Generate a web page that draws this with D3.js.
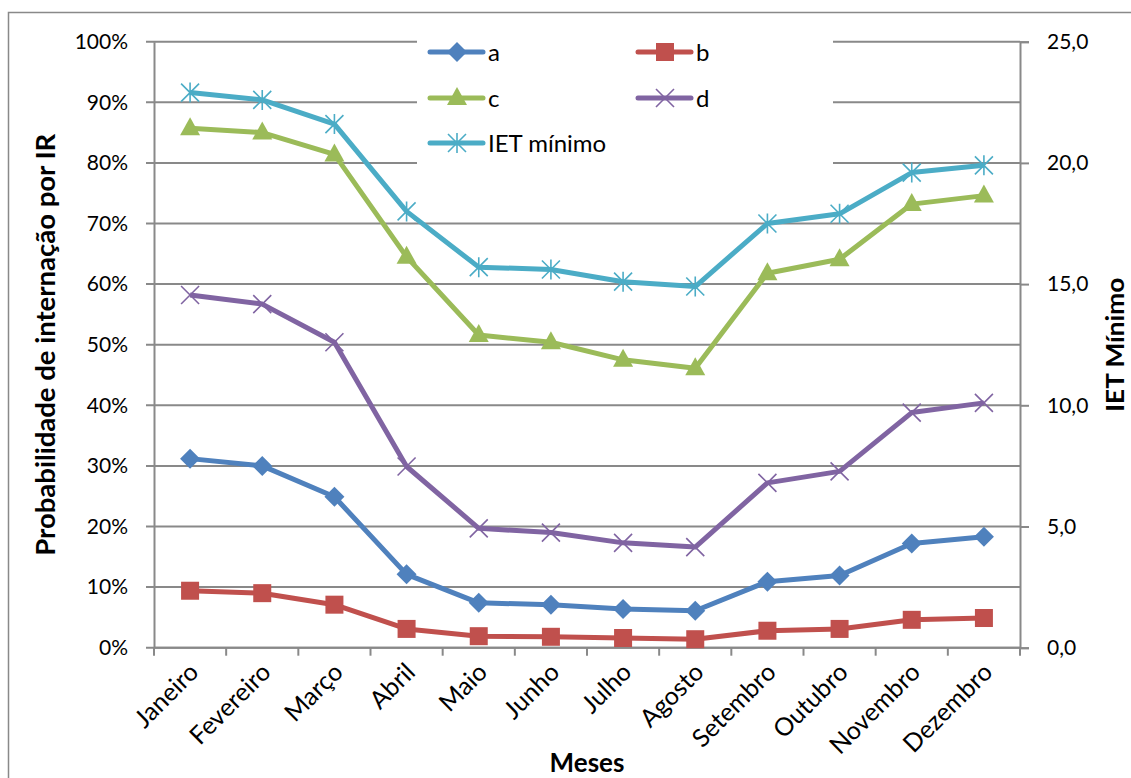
<!DOCTYPE html>
<html>
<head>
<meta charset="utf-8">
<script src="https://cdn.jsdelivr.net/npm/d3@7"></script>
<style>
  html, body { margin: 0; padding: 0; background: #fff; }
  svg { display: block; font-family: Lato, "Noto Sans", sans-serif; }
</style>
</head>
<body>
<svg id="chart" width="1131" height="778"></svg>
<script>
// Months on the x axis
const months = ["Janeiro", "Fevereiro", "Março", "Abril", "Maio", "Junho",
  "Julho", "Agosto", "Setembro", "Outubro", "Novembro", "Dezembro"];

// Hospitalization probability per scenario (fraction, left axis)
const seriesA = [0.312, 0.300, 0.249, 0.121, 0.074, 0.071, 0.064, 0.061, 0.109, 0.119, 0.172, 0.183];
const seriesB = [0.094, 0.090, 0.071, 0.031, 0.019, 0.018, 0.016, 0.014, 0.028, 0.031, 0.046, 0.049];
const seriesC = [0.857, 0.850, 0.814, 0.645, 0.516, 0.504, 0.475, 0.461, 0.618, 0.641, 0.732, 0.746];
const seriesD = [0.582, 0.567, 0.504, 0.299, 0.197, 0.190, 0.173, 0.166, 0.272, 0.291, 0.388, 0.404];

// Minimum IET (right axis)
const ietMinimo = [22.9, 22.6, 21.6, 18.0, 15.7, 15.6, 15.1, 14.9, 17.5, 17.9, 19.6, 19.9];

// Tick values
const leftTicks = [0, 0.1, 0.2, 0.3, 0.4, 0.5, 0.6, 0.7, 0.8, 0.9, 1.0];
const rightTicks = [0, 5, 10, 15, 20, 25];

const svg = d3.select("#chart");
const gridColor = "#898989";
const plotL = 154, plotR = 1020, plotT = 41.7, plotB = 647.7;

// Outer chart frame
svg.append("rect").attr("x", 8.5).attr("y", 12.5).attr("width", 1140).attr("height", 800)
  .attr("fill", "none").attr("stroke", gridColor).attr("stroke-width", 1.5);

const x = d3.scaleBand().domain(months).range([plotL, plotR]);
const yL = d3.scaleLinear().domain([0, 1]).range([plotB, plotT]);
const yR = d3.scaleLinear().domain([0, 25]).range([plotB, plotT]);

// Horizontal gridlines
svg.append("g").selectAll("line").data(leftTicks).join("line")
  .attr("x1", plotL - 8).attr("x2", plotR)
  .attr("y1", d => yL(d)).attr("y2", d => yL(d))
  .attr("stroke", gridColor).attr("stroke-width", 2);

// Left axis
const axL = svg.append("g").attr("transform", `translate(${plotL},0)`)
  .call(d3.axisLeft(yL).tickValues(leftTicks).tickFormat(d3.format(".0%")).tickSize(0).tickPadding(26));
axL.select(".domain").attr("stroke", gridColor).attr("stroke-width", 2);
axL.selectAll("text").attr("font-size", 21).attr("fill", "#000").attr("font-family", "Lato, sans-serif");

// Right axis
const axR = svg.append("g").attr("transform", `translate(${plotR},0)`)
  .call(d3.axisRight(yR).tickValues(rightTicks).tickFormat(d => d3.format(".1f")(d).replace(".", ",")).tickSize(9).tickPadding(18));
axR.select(".domain").attr("stroke", gridColor).attr("stroke-width", 2);
axR.selectAll("line").attr("stroke", gridColor).attr("stroke-width", 2);
axR.selectAll("text").attr("font-size", 21).attr("fill", "#000").attr("font-family", "Lato, sans-serif");

// Bottom axis: ticks at category boundaries
const axB = svg.append("g").attr("transform", `translate(0,${plotB})`);
axB.append("line").attr("x1", plotL).attr("x2", plotR).attr("stroke", gridColor).attr("stroke-width", 2);
const bounds = months.map(m => x(m)).concat([plotR]);
axB.selectAll("line.tk").data(bounds).join("line").attr("class", "tk")
  .attr("x1", d => d).attr("x2", d => d).attr("y1", 0).attr("y2", 8)
  .attr("stroke", gridColor).attr("stroke-width", 2);
axB.selectAll("text").data(months).join("text")
  .attr("transform", d => `translate(${x(d) + x.bandwidth() / 2 + 10},${26}) rotate(-45)`)
  .attr("text-anchor", "end").attr("font-size", 25).attr("fill", "#000").text(d => d);

// Axis titles
svg.append("text").attr("transform", `translate(55,${(plotT + plotB) / 2}) rotate(-90)`)
  .attr("text-anchor", "middle").attr("font-weight", "bold").attr("font-size", 26)
  .attr("textLength", 422).attr("lengthAdjust", "spacingAndGlyphs")
  .text("Probabilidade de internação por IR");
svg.append("text").attr("transform", `translate(1124,${(plotT + plotB) / 2}) rotate(-90)`)
  .attr("text-anchor", "middle").attr("font-weight", "bold").attr("font-size", 25)
  .attr("textLength", 134).attr("lengthAdjust", "spacingAndGlyphs").text("IET Mínimo");
svg.append("text").attr("x", (plotL + plotR) / 2).attr("y", 772)
  .attr("text-anchor", "middle").attr("font-weight", "bold").attr("font-size", 26).text("Meses");

// Marker shapes
function marker(g, kind, color) {
  if (kind === "diamond") {
    g.append("path").attr("d", "M0,-10L10,0L0,10L-10,0Z").attr("fill", color);
  } else if (kind === "square") {
    g.append("rect").attr("x", -9).attr("y", -9).attr("width", 18).attr("height", 18).attr("fill", color);
  } else if (kind === "triangle") {
    g.append("path").attr("d", "M0,-11L10,7L-10,7Z").attr("fill", color);
  } else if (kind === "x") {
    g.append("path").attr("d", "M-9,-9L9,9M-9,9L9,-9").attr("stroke", color).attr("stroke-width", 1.6).attr("fill", "none");
  } else if (kind === "asterisk") {
    g.append("path").attr("d", "M-9,-9L9,9M-9,9L9,-9M0,-10L0,10").attr("stroke", color).attr("stroke-width", 1.6).attr("fill", "none");
  }
}

const series = [
  { name: "a", values: seriesA, color: "#4F81BD", kind: "diamond", y: yL },
  { name: "b", values: seriesB, color: "#C0504D", kind: "square", y: yL },
  { name: "c", values: seriesC, color: "#9BBB59", kind: "triangle", y: yL },
  { name: "d", values: seriesD, color: "#8064A2", kind: "x", y: yL },
  { name: "IET mínimo", values: ietMinimo, color: "#4BACC6", kind: "asterisk", y: yR }
];

// Legend background and entries
svg.append("rect").attr("x", 417).attr("y", 30).attr("width", 416).attr("height", 158).attr("fill", "#fff");
const legendPos = [[430, 52], [638, 52], [430, 98], [638, 98], [430, 143]];
series.forEach((s, i) => {
  const [lx, ly] = legendPos[i];
  const g = svg.append("g");
  g.append("line").attr("x1", lx).attr("x2", lx + 53).attr("y1", ly).attr("y2", ly)
    .attr("stroke", s.color).attr("stroke-width", 5).attr("stroke-linecap", "round");
  marker(g.append("g").attr("transform", `translate(${lx + 27},${ly})`), s.kind, s.color);
  g.append("text").attr("x", lx + 58).attr("y", ly + 9).attr("font-size", 24).attr("fill", "#000").text(s.name);
});

// Series lines and markers
series.forEach(s => {
  const pts = s.values.map((v, i) => [x(months[i]) + x.bandwidth() / 2, s.y(v)]);
  svg.append("path").attr("d", d3.line()(pts)).attr("fill", "none")
    .attr("stroke", s.color).attr("stroke-width", 5).attr("stroke-linejoin", "round");
  pts.forEach(p => marker(svg.append("g").attr("transform", `translate(${p[0]},${p[1]})`), s.kind, s.color));
});
</script>
</body>
</html>
